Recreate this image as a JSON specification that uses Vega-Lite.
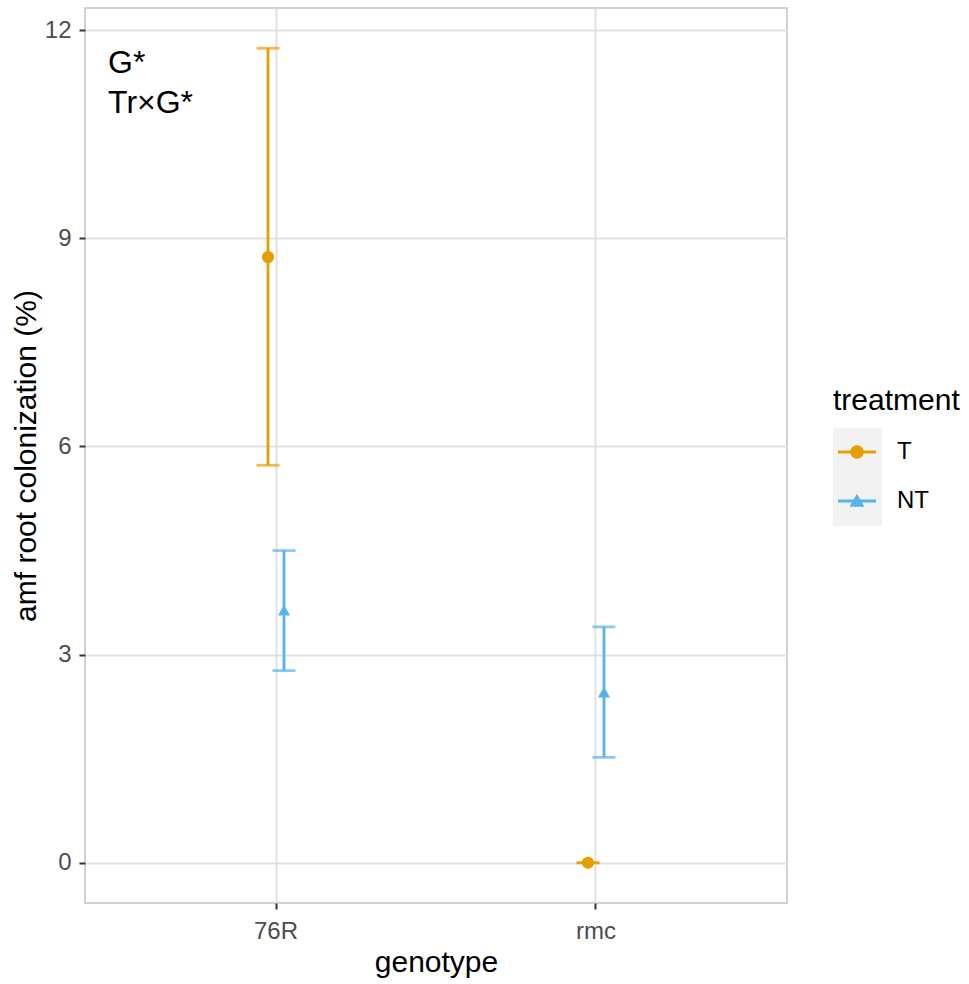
{
  "$schema": "https://vega.github.io/schema/vega-lite/v6.json",
  "autosize": "none",
  "width": 702,
  "height": 895,
  "padding": {"left": 85, "top": 8, "right": 182, "bottom": 81},
  "background": "white",
  "config": {
    "font": "Liberation Sans",
    "view": {"stroke": "#c4c4c4", "strokeWidth": 1.5},
    "axis": {
      "domain": false,
      "grid": true,
      "gridColor": "#e1e1e1",
      "gridWidth": 2,
      "tickColor": "#333333",
      "tickSize": 6,
      "tickWidth": 2,
      "labelColor": "#4d4d4d",
      "labelFontSize": 24,
      "titleFontSize": 30,
      "titleColor": "#000000",
      "titleFontWeight": "normal"
    }
  },
  "data": {
    "values": [
      {"genotype": "76R", "treatment": "T", "mean": 8.73, "lower": 5.73, "upper": 11.74},
      {"genotype": "76R", "treatment": "NT", "mean": 3.64, "lower": 2.77, "upper": 4.5},
      {"genotype": "rmc", "treatment": "T", "mean": 0, "lower": 0, "upper": 0},
      {"genotype": "rmc", "treatment": "NT", "mean": 2.46, "lower": 1.52, "upper": 3.4}
    ]
  },
  "encoding": {
    "x": {
      "field": "genotype",
      "type": "nominal",
      "title": "genotype",
      "scale": {"type": "band", "domain": ["76R", "rmc"], "paddingInner": 0.9, "paddingOuter": 0.547},
      "axis": {"labelAngle": 0, "labelPadding": 10, "titlePadding": 4}
    },
    "xOffset": {
      "field": "treatment",
      "type": "nominal",
      "scale": {"domain": ["T", "NT"], "paddingInner": 0, "paddingOuter": 0}
    }
  },
  "layer": [
    {
      "mark": {"type": "rule", "strokeWidth": 2.8},
      "encoding": {
        "y": {
          "field": "lower",
          "type": "quantitative",
          "title": "amf root colonization (%)",
          "scale": {"domain": [-0.58, 12.32], "nice": false, "zero": false},
          "axis": {"values": [0, 3, 6, 9, 12], "format": "d", "labelPadding": 8, "titlePadding": 3}
        },
        "y2": {"field": "upper"},
        "color": {"field": "treatment", "type": "nominal", "scale": {"domain": ["T", "NT"], "range": ["#E69F00", "#56B4E9"]}, "legend": null}
      }
    },
    {
      "mark": {"type": "tick", "size": 23, "thickness": 2.8, "orient": "horizontal"},
      "encoding": {
        "y": {"field": "upper", "type": "quantitative"},
        "color": {"field": "treatment", "type": "nominal", "scale": {"domain": ["T", "NT"], "range": ["#E69F00", "#56B4E9"]}, "legend": null}
      }
    },
    {
      "mark": {"type": "tick", "size": 23, "thickness": 2.8, "orient": "horizontal"},
      "encoding": {
        "y": {"field": "lower", "type": "quantitative"},
        "color": {"field": "treatment", "type": "nominal", "scale": {"domain": ["T", "NT"], "range": ["#E69F00", "#56B4E9"]}, "legend": null}
      }
    },
    {
      "mark": {"type": "point", "filled": true, "size": 150, "opacity": 1, "strokeWidth": 0},
      "encoding": {
        "y": {"field": "mean", "type": "quantitative"},
        "color": {"field": "treatment", "type": "nominal", "scale": {"domain": ["T", "NT"], "range": ["#E69F00", "#56B4E9"]}, "legend": null},
        "shape": {"field": "treatment", "type": "nominal", "scale": {"domain": ["T", "NT"], "range": ["circle", "triangle-up"]}, "legend": null}
      }
    },
    {
      "mark": {"type": "point", "filled": true, "size": 120, "opacity": 0},
      "encoding": {
        "y": {"field": "mean", "type": "quantitative"},
        "fill": {
          "field": "treatment", "type": "nominal",
          "scale": {"domain": ["T", "NT"], "range": ["#f2f2f2", "#f2f2f2"]},
          "legend": {"title": "treatment", "orient": "none", "legendX": 748, "legendY": 378, "symbolType": "square", "symbolSize": 2401, "symbolStrokeWidth": 0, "symbolOpacity": 1, "labelFontSize": 24, "titleFontSize": 30, "titleFontWeight": "normal", "titleColor": "transparent", "labelColor": "transparent", "labelOffset": 16, "rowPadding": 0, "titlePadding": 12, "padding": 0, "zindex": 1}
        }
      }
    },
    {
      "mark": {"type": "point", "filled": true, "size": 120, "opacity": 0},
      "encoding": {
        "y": {"field": "mean", "type": "quantitative"},
        "color": {
          "field": "treatment", "type": "nominal",
          "scale": {"domain": ["T", "NT"], "range": ["#E69F00", "#56B4E9"]},
          "legend": {"title": "treatment", "orient": "none", "legendX": 748, "legendY": 378, "symbolSize": 2304, "symbolStrokeWidth": 0, "symbolOpacity": 1, "labelFontSize": 24, "titleFontSize": 30, "titleFontWeight": "normal", "titleColor": "#000000", "labelColor": "#000000", "labelOffset": 16, "rowPadding": 13, "titlePadding": 12, "padding": 0, "zindex": 2}
        },
        "shape": {
          "field": "treatment", "type": "nominal",
          "scale": {"domain": ["T", "NT"], "range": ["M-0.79,-0.06L0.79,-0.06L0.79,0.06L-0.79,0.06Z M0.28,0A0.28,0.28 0 1,1 -0.28,0A0.28,0.28 0 1,1 0.28,0Z", "M-0.79,-0.06L0.79,-0.06L0.79,0.06L-0.79,0.06Z M0,-0.3L0.31,0.24L-0.31,0.24Z"]},
          "legend": {"title": "treatment", "orient": "none", "legendX": 748, "legendY": 378, "symbolSize": 2304, "symbolStrokeWidth": 0, "symbolOpacity": 1, "labelFontSize": 24, "titleFontSize": 30, "titleFontWeight": "normal", "titleColor": "#000000", "labelColor": "#000000", "labelOffset": 16, "rowPadding": 13, "titlePadding": 12, "padding": 0, "zindex": 2}
        }
      }
    },
    {
      "data": {"values": [{"label": "G*\nTr×G*"}]},
      "mark": {"type": "text", "fontSize": 32, "lineBreak": "\n", "lineHeight": 40, "align": "left", "baseline": "alphabetic", "dx": -168, "color": "#000000"},
      "encoding": {
        "x": {"datum": "76R"},
        "xOffset": null,
        "y": {"datum": 11.38},
        "text": {"field": "label"}
      }
    }
  ],
  "resolve": {"scale": {"shape": "independent", "color": "independent"}}
}
